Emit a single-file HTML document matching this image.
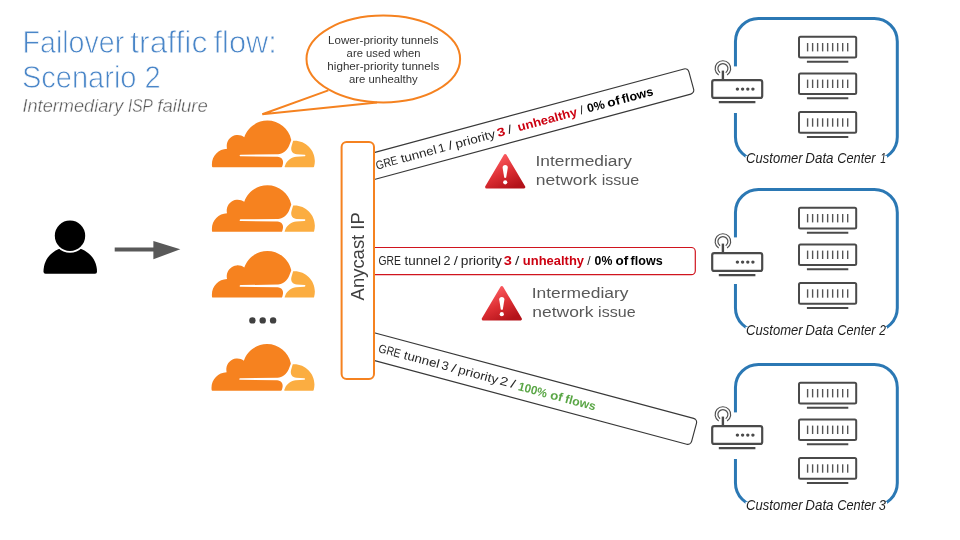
<!DOCTYPE html>
<html><head><meta charset="utf-8">
<style>
html,body{margin:0;padding:0;background:#fff;width:960px;height:540px;overflow:hidden}
svg{display:block;font-family:"Liberation Sans",sans-serif;will-change:transform}
</style></head><body>
<svg width="960" height="540" viewBox="0 0 960 540">
<defs>
<g id="cf">
<path fill="#F6821F" d="M16.5088 16.8447c.1475-.5068.0908-.9707-.1553-1.3154-.2246-.3164-.6045-.499-1.0615-.5205l-8.6592-.1123a.1559.1559 0 0 1-.1333-.0713c-.0283-.042-.0351-.0986-.021-.1553.0278-.084.1123-.1484.2036-.1562l8.7359-.1123c1.0351-.0489 2.1601-.8868 2.5537-1.9136l.499-1.3013c.0215-.0561.0293-.1128.0147-.168-.5625-2.5463-2.835-4.4453-5.5499-4.4453-2.5039 0-4.6284 1.6177-5.3876 3.8614-.4927-.3658-1.1187-.5625-1.794-.499-1.2026.119-2.1665 1.083-2.2861 2.2856-.0283.31-.0069.6128.0635.894C1.5683 13.171 0 14.7754 0 16.752c0 .1748.0142.3515.0352.5273.0141.083.0844.1475.1689.1475h15.9814c.0909 0 .1758-.0645.2032-.1553l.12-.4268z"/>
<path fill="#FBAD41" d="M19.2656 11.2813c-.0771 0-.1611 0-.2383.0112-.0566 0-.1054.0415-.127.0976l-.3378 1.1744c-.1475.5068-.0918.9707.1543 1.3164.2256.3164.6055.498 1.0625.5195l1.8437.1133c.0557 0 .1055.0263.1329.0703.0283.043.0351.1074.0214.1562-.0283.084-.1132.1485-.204.1553l-1.921.1123c-1.041.0488-2.1582.8867-2.5527 1.914l-.1406.3585c-.0283.0713.0215.1416.0986.1416h6.5977c.0771 0 .1474-.0489.169-.126.1122-.4082.1757-.837.1757-1.2803 0-2.6025-2.125-4.7255-4.7344-4.7255"/>
</g>
<g id="router">
<rect x="712.2" y="80.1" width="50" height="17.8" rx="2" fill="#fff" stroke="#4a4a4a" stroke-width="2.2"/>
<line x1="718.8" y1="102.1" x2="755.4" y2="102.1" stroke="#4a4a4a" stroke-width="2.2"/>
<line x1="722.9" y1="70.6" x2="722.9" y2="80" stroke="#4a4a4a" stroke-width="2.4"/>
<path d="M718.7,75.1 A7.8,7.8 0 1 1 727.1,75.1" fill="none" stroke="#505050" stroke-width="1.15"/>
<path d="M720.1,72.7 A5,5 0 1 1 725.7,72.7" fill="none" stroke="#505050" stroke-width="1.15"/>
<g fill="#4a4a4a"><circle cx="737.4" cy="89.1" r="1.7"/><circle cx="742.6" cy="89.1" r="1.7"/><circle cx="747.8" cy="89.1" r="1.7"/><circle cx="752.9" cy="89.1" r="1.7"/></g>
</g>
<g id="server">
<rect x="799" y="36.8" width="57.2" height="20.7" rx="1.5" fill="#fff" stroke="#4a4a4a" stroke-width="2"/>
<line x1="806.9" y1="61.7" x2="848.3" y2="61.7" stroke="#4a4a4a" stroke-width="2"/>
<g stroke="#555" stroke-width="1.4"><line x1="807.60" y1="43" x2="807.60" y2="51.4"/><line x1="812.61" y1="43" x2="812.61" y2="51.4"/><line x1="817.62" y1="43" x2="817.62" y2="51.4"/><line x1="822.63" y1="43" x2="822.63" y2="51.4"/><line x1="827.64" y1="43" x2="827.64" y2="51.4"/><line x1="832.65" y1="43" x2="832.65" y2="51.4"/><line x1="837.66" y1="43" x2="837.66" y2="51.4"/><line x1="842.67" y1="43" x2="842.67" y2="51.4"/><line x1="847.68" y1="43" x2="847.68" y2="51.4"/></g>
</g>
<g id="dcbox">
<rect x="735.45" y="18.4" width="161.85" height="141.6" rx="23" fill="none" stroke="#2b78b4" stroke-width="3"/>
<rect x="731" y="66.4" width="9" height="46.6" fill="#fff"/>
<rect x="745.5" y="155.9" width="141.5" height="17" fill="#fff"/>
<use href="#server"/>
<use href="#server" transform="translate(0,36.6)"/>
<use href="#server" transform="translate(0,75.3)"/>
</g>
<linearGradient id="warn" x1="0.25" y1="0.1" x2="0.75" y2="1">
<stop offset="0" stop-color="#f9585d"/><stop offset="0.5" stop-color="#dc2e33"/><stop offset="1" stop-color="#b3131a"/>
</linearGradient>
<g id="warnicon">
<path d="M505.2,155.6 L523.8,187 L486.6,187 Z" fill="url(#warn)" stroke="url(#warn)" stroke-width="3" stroke-linejoin="round"/>
<path d="M502.6,167.7 A2.6,2.6 0 0 1 507.8,167.7 L506.2,177.6 Q505.2,178.3 504.2,177.6 Z" fill="#fff"/>
<circle cx="505.2" cy="182.3" r="2.1" fill="#fff"/>
</g>
</defs>

<!-- Title -->
<text id="t1_0" x="22.55" y="52.50" font-size="31" textLength="101.71" lengthAdjust="spacingAndGlyphs" fill="#4a86c8" stroke="#fff" stroke-width="0.8">Failover</text>
<text id="t1_1" x="130.27" y="52.50" font-size="31" textLength="77.00" lengthAdjust="spacingAndGlyphs" fill="#4a86c8" stroke="#fff" stroke-width="0.8">traffic</text>
<text id="t1_2" x="213.52" y="52.50" font-size="31" textLength="63.23" lengthAdjust="spacingAndGlyphs" fill="#4a86c8" stroke="#fff" stroke-width="0.8">flow:</text>
<text id="t2_0" x="21.90" y="87.50" font-size="31" textLength="114.61" lengthAdjust="spacingAndGlyphs" fill="#4a86c8" stroke="#fff" stroke-width="0.8">Scenario</text>
<text id="t2_1" x="144.48" y="87.50" font-size="31" textLength="16.19" lengthAdjust="spacingAndGlyphs" fill="#4a86c8" stroke="#fff" stroke-width="0.8">2</text>
<text id="t3_0" x="22.47" y="111.70" font-size="18.6" textLength="100.98" lengthAdjust="spacingAndGlyphs" fill="#595959" font-style="italic" stroke="#fff" stroke-width="0.35">Intermediary</text>
<text id="t3_1" x="127.93" y="111.70" font-size="18.6" textLength="24.83" lengthAdjust="spacingAndGlyphs" fill="#595959" font-style="italic" stroke="#fff" stroke-width="0.35">ISP</text>
<text id="t3_2" x="157.33" y="111.70" font-size="18.6" textLength="50.56" lengthAdjust="spacingAndGlyphs" fill="#595959" font-style="italic" stroke="#fff" stroke-width="0.35">failure</text>

<!-- Callout -->
<ellipse cx="383.3" cy="59" rx="76.8" ry="43.4" fill="#fff" stroke="#F58220" stroke-width="2"/>

<polyline points="328.3,90.4 262.3,114.3 377,102.4" fill="none" stroke="#F58220" stroke-width="2" stroke-linejoin="miter"/>
<text id="b1" x="328.14" y="43.90" font-size="10.9" textLength="110.33" lengthAdjust="spacingAndGlyphs" fill="#333">Lower-priority tunnels</text>
<text id="b2" x="346.63" y="56.70" font-size="10.9" textLength="73.80" lengthAdjust="spacingAndGlyphs" fill="#333">are used when</text>
<text id="b3" x="327.39" y="69.70" font-size="10.9" textLength="111.85" lengthAdjust="spacingAndGlyphs" fill="#333">higher-priority tunnels</text>
<text id="b4" x="349.02" y="82.60" font-size="10.9" textLength="68.73" lengthAdjust="spacingAndGlyphs" fill="#333">are unhealthy</text>

<!-- Person -->
<path d="M43.5,271.8 C43.5,256 56,247 70,247 C84,247 97,256 97,271.8 Q97,273.8 95,273.8 L45.5,273.8 Q43.5,273.8 43.5,271.8 Z" fill="#000"/>
<circle cx="70" cy="235.7" r="17.1" fill="#fff"/>
<circle cx="70" cy="235.7" r="15.2" fill="#000"/>

<!-- Arrow -->
<line x1="114.7" y1="249.4" x2="156" y2="249.4" stroke="#595959" stroke-width="4"/>
<polygon points="153.4,241 180.3,249.3 153.4,259.2" fill="#595959"/>

<!-- Clouds -->
<use href="#cf" transform="translate(211.9,92.4) scale(4.29)"/>
<use href="#cf" transform="translate(211.9,157.1) scale(4.29)"/>
<use href="#cf" transform="translate(211.9,222.8) scale(4.29)"/>
<use href="#cf" transform="translate(211.5,315.9) scale(4.29)"/>
<g fill="#404040">
<circle cx="252.4" cy="320.4" r="3.2"/>
<circle cx="262.7" cy="320.4" r="3.2"/>
<circle cx="273.1" cy="320.4" r="3.2"/>
</g>

<!-- Tunnels -->
<g transform="translate(360,156.4) rotate(-15.1)">
<rect x="0" y="0" width="339.6" height="26" rx="4" fill="#fff" stroke="#383838" stroke-width="1.15"/>
</g>
<rect x="360" y="247.5" width="335.3" height="27.2" rx="4" fill="#fff" stroke="#d0141e" stroke-width="1.2"/>
<g transform="translate(360,329) rotate(15)">
<rect x="0" y="0" width="349.4" height="26.7" rx="4" fill="#fff" stroke="#383838" stroke-width="1.15"/>
</g>

<!-- Anycast box -->
<rect x="341.6" y="142.1" width="32.4" height="237" rx="5" fill="#fff" stroke="#F58220" stroke-width="2"/>
<text id="any" x="0.00" y="0.00" font-size="18.7" textLength="88.20" lengthAdjust="spacingAndGlyphs" fill="#404040" transform="translate(363.9,300.4) rotate(-90)">Anycast IP</text>

<!-- Tunnel texts -->
<text id="g1_0" x="12.89" y="17.20" font-size="12" textLength="22.37" lengthAdjust="spacingAndGlyphs" fill="#262626" transform="translate(360,156.4) rotate(-15.1)">GRE</text>
<text id="g1_1" x="38.90" y="17.20" font-size="12" textLength="36.54" lengthAdjust="spacingAndGlyphs" fill="#262626" transform="translate(360,156.4) rotate(-15.1)">tunnel</text>
<text id="g1_2" x="77.45" y="17.20" font-size="12" textLength="7.15" lengthAdjust="spacingAndGlyphs" fill="#262626" transform="translate(360,156.4) rotate(-15.1)">1</text>
<text id="g1_3" x="88.20" y="17.20" font-size="12" textLength="4.12" lengthAdjust="spacingAndGlyphs" fill="#262626" transform="translate(360,156.4) rotate(-15.1)">/</text>
<text id="g1_4" x="95.40" y="17.20" font-size="12" textLength="40.78" lengthAdjust="spacingAndGlyphs" fill="#262626" transform="translate(360,156.4) rotate(-15.1)">priority</text>
<text id="g1_5" x="138.50" y="17.20" font-size="12" textLength="8.03" lengthAdjust="spacingAndGlyphs" fill="#cc0010" font-weight="bold" transform="translate(360,156.4) rotate(-15.1)">3</text>
<text id="g1_6" x="149.57" y="17.20" font-size="12" textLength="4.14" lengthAdjust="spacingAndGlyphs" fill="#262626" transform="translate(360,156.4) rotate(-15.1)">/</text>
<text id="g1_7" x="159.90" y="17.20" font-size="12" textLength="61.22" lengthAdjust="spacingAndGlyphs" fill="#cc0010" font-weight="bold" transform="translate(360,156.4) rotate(-15.1)">unhealthy</text>
<text id="g1_8" x="224.37" y="17.20" font-size="12" textLength="3.54" lengthAdjust="spacingAndGlyphs" fill="#262626" transform="translate(360,156.4) rotate(-15.1)">/</text>
<text id="g1_9" x="231.87" y="17.20" font-size="12" textLength="17.73" lengthAdjust="spacingAndGlyphs" fill="#000" font-weight="bold" transform="translate(360,156.4) rotate(-15.1)">0%</text>
<text id="g1_10" x="252.57" y="17.20" font-size="12" textLength="12.91" lengthAdjust="spacingAndGlyphs" fill="#000" font-weight="bold" transform="translate(360,156.4) rotate(-15.1)">of</text>
<text id="g1_11" x="267.89" y="17.20" font-size="12" textLength="31.92" lengthAdjust="spacingAndGlyphs" fill="#000" font-weight="bold" transform="translate(360,156.4) rotate(-15.1)">flows</text>
<text id="g2_0" x="378.49" y="265.00" font-size="12" textLength="22.37" lengthAdjust="spacingAndGlyphs" fill="#262626">GRE</text>
<text id="g2_1" x="404.45" y="265.00" font-size="12" textLength="36.59" lengthAdjust="spacingAndGlyphs" fill="#262626">tunnel</text>
<text id="g2_2" x="443.44" y="265.00" font-size="12" textLength="6.97" lengthAdjust="spacingAndGlyphs" fill="#262626">2</text>
<text id="g2_3" x="453.79" y="265.00" font-size="12" textLength="4.13" lengthAdjust="spacingAndGlyphs" fill="#262626">/</text>
<text id="g2_4" x="460.79" y="265.00" font-size="12" textLength="41.12" lengthAdjust="spacingAndGlyphs" fill="#262626">priority</text>
<text id="g2_5" x="503.89" y="265.00" font-size="12" textLength="8.13" lengthAdjust="spacingAndGlyphs" fill="#cc0010" font-weight="bold">3</text>
<text id="g2_6" x="514.99" y="265.00" font-size="12" textLength="4.29" lengthAdjust="spacingAndGlyphs" fill="#262626">/</text>
<text id="g2_7" x="522.89" y="265.00" font-size="12" textLength="61.10" lengthAdjust="spacingAndGlyphs" fill="#cc0010" font-weight="bold">unhealthy</text>
<text id="g2_8" x="587.24" y="265.00" font-size="12" textLength="3.39" lengthAdjust="spacingAndGlyphs" fill="#262626">/</text>
<text id="g2_9" x="594.62" y="265.00" font-size="12" textLength="17.73" lengthAdjust="spacingAndGlyphs" fill="#000" font-weight="bold">0%</text>
<text id="g2_10" x="615.43" y="265.00" font-size="12" textLength="12.73" lengthAdjust="spacingAndGlyphs" fill="#000" font-weight="bold">of</text>
<text id="g2_11" x="630.62" y="265.00" font-size="12" textLength="32.02" lengthAdjust="spacingAndGlyphs" fill="#000" font-weight="bold">flows</text>
<text id="g3_0" x="23.17" y="17.50" font-size="12" textLength="22.47" lengthAdjust="spacingAndGlyphs" fill="#262626" transform="translate(360,329) rotate(15)">GRE</text>
<text id="g3_1" x="49.31" y="17.50" font-size="12" textLength="36.47" lengthAdjust="spacingAndGlyphs" fill="#262626" transform="translate(360,329) rotate(15)">tunnel</text>
<text id="g3_2" x="88.21" y="17.50" font-size="12" textLength="7.08" lengthAdjust="spacingAndGlyphs" fill="#262626" transform="translate(360,329) rotate(15)">3</text>
<text id="g3_3" x="98.54" y="17.50" font-size="12" textLength="4.20" lengthAdjust="spacingAndGlyphs" fill="#262626" transform="translate(360,329) rotate(15)">/</text>
<text id="g3_4" x="105.71" y="17.50" font-size="12" textLength="40.78" lengthAdjust="spacingAndGlyphs" fill="#262626" transform="translate(360,329) rotate(15)">priority</text>
<text id="g3_5" x="148.63" y="17.50" font-size="12" textLength="8.34" lengthAdjust="spacingAndGlyphs" fill="#262626" transform="translate(360,329) rotate(15)">2</text>
<text id="g3_6" x="159.86" y="17.50" font-size="12" textLength="4.33" lengthAdjust="spacingAndGlyphs" fill="#262626" transform="translate(360,329) rotate(15)">/</text>
<text id="g3_7" x="167.82" y="18.10" font-size="12" textLength="29.70" lengthAdjust="spacingAndGlyphs" fill="#5aa646" font-weight="bold" transform="translate(360,329) rotate(15)">100%</text>
<text id="g3_8" x="200.96" y="18.10" font-size="12" textLength="12.54" lengthAdjust="spacingAndGlyphs" fill="#5aa646" font-weight="bold" transform="translate(360,329) rotate(15)">of</text>
<text id="g3_9" x="216.23" y="18.10" font-size="12" textLength="31.52" lengthAdjust="spacingAndGlyphs" fill="#5aa646" font-weight="bold" transform="translate(360,329) rotate(15)">flows</text>

<!-- Warnings -->
<use href="#warnicon"/>
<use href="#warnicon" transform="translate(-3.4,131.9)"/>
<text id="i1" x="535.48" y="166.10" font-size="15.1" textLength="96.46" lengthAdjust="spacingAndGlyphs" fill="#595959">Intermediary</text>
<text id="n1_0" x="535.85" y="184.90" font-size="15.1" textLength="61.20" lengthAdjust="spacingAndGlyphs" fill="#595959">network</text>
<text id="n1_1" x="601.67" y="184.90" font-size="15.1" textLength="37.55" lengthAdjust="spacingAndGlyphs" fill="#595959">issue</text>
<text id="i2" x="531.74" y="298.40" font-size="15.1" textLength="96.72" lengthAdjust="spacingAndGlyphs" fill="#595959">Intermediary</text>
<text id="n2_0" x="532.36" y="317.10" font-size="15.1" textLength="61.04" lengthAdjust="spacingAndGlyphs" fill="#595959">network</text>
<text id="n2_1" x="598.13" y="317.10" font-size="15.1" textLength="37.53" lengthAdjust="spacingAndGlyphs" fill="#595959">issue</text>

<!-- Data centers -->
<use href="#dcbox"/>
<use href="#router"/>
<use href="#dcbox" transform="translate(0,171)"/>
<use href="#router" transform="translate(0,173)"/>
<use href="#dcbox" transform="translate(0,346)"/>
<use href="#router" transform="translate(0,346)"/>
<text id="d1_0" x="746.11" y="163.30" font-size="14" textLength="56.47" lengthAdjust="spacingAndGlyphs" fill="#1e1e1e" font-style="italic">Customer</text>
<text id="d1_1" x="805.36" y="163.30" font-size="14" textLength="28.19" lengthAdjust="spacingAndGlyphs" fill="#1e1e1e" font-style="italic">Data</text>
<text id="d1_2" x="837.23" y="163.30" font-size="14" textLength="38.34" lengthAdjust="spacingAndGlyphs" fill="#1e1e1e" font-style="italic">Center</text>
<text id="d1_3" x="880.19" y="163.30" font-size="14" textLength="5.87" lengthAdjust="spacingAndGlyphs" fill="#1e1e1e" font-style="italic">1</text>
<text id="d2_0" x="746.11" y="334.60" font-size="14" textLength="56.47" lengthAdjust="spacingAndGlyphs" fill="#1e1e1e" font-style="italic">Customer</text>
<text id="d2_1" x="805.36" y="334.60" font-size="14" textLength="28.19" lengthAdjust="spacingAndGlyphs" fill="#1e1e1e" font-style="italic">Data</text>
<text id="d2_2" x="837.23" y="334.60" font-size="14" textLength="38.34" lengthAdjust="spacingAndGlyphs" fill="#1e1e1e" font-style="italic">Center</text>
<text id="d2_3" x="879.20" y="334.60" font-size="14" textLength="6.67" lengthAdjust="spacingAndGlyphs" fill="#1e1e1e" font-style="italic">2</text>
<text id="d3_0" x="746.11" y="509.60" font-size="14" textLength="56.47" lengthAdjust="spacingAndGlyphs" fill="#1e1e1e" font-style="italic">Customer</text>
<text id="d3_1" x="805.36" y="509.60" font-size="14" textLength="28.19" lengthAdjust="spacingAndGlyphs" fill="#1e1e1e" font-style="italic">Data</text>
<text id="d3_2" x="837.23" y="509.60" font-size="14" textLength="38.34" lengthAdjust="spacingAndGlyphs" fill="#1e1e1e" font-style="italic">Center</text>
<text id="d3_3" x="878.68" y="509.60" font-size="14" textLength="7.16" lengthAdjust="spacingAndGlyphs" fill="#1e1e1e" font-style="italic">3</text>
</svg>
</body></html>
